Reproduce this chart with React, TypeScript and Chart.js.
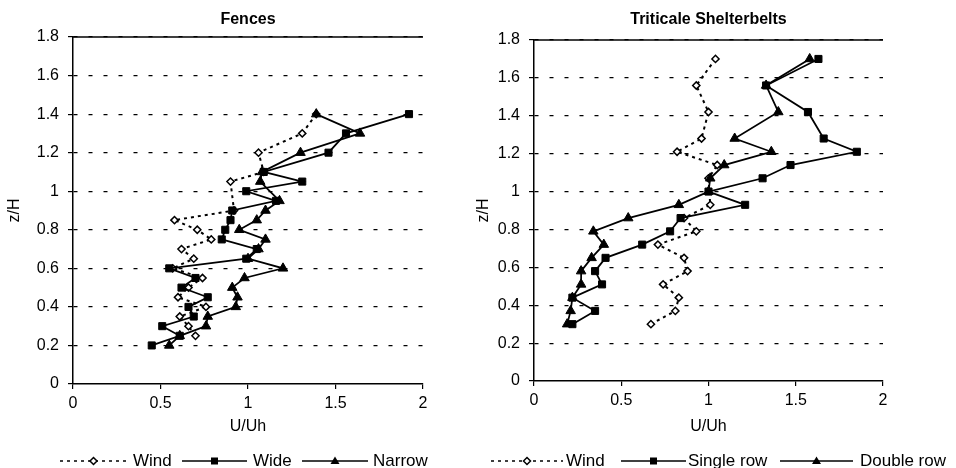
import React, { useEffect, useRef } from 'react';
import { Chart, registerables } from 'chart.js';

Chart.register(...registerables);

const FONT = '"Liberation Sans", Arial, Helvetica, sans-serif';

// ---- axes ----
const xTickValues = [0, 0.5, 1, 1.5, 2];
const xTickLabels = ['0', '0.5', '1', '1.5', '2'];
const yTickValues = [0, 0.2, 0.4, 0.6, 0.8, 1, 1.2, 1.4, 1.6, 1.8];
const yTickLabels = ['0', '0.2', '0.4', '0.6', '0.8', '1', '1.2', '1.4', '1.6', '1.8'];
const xAxisTitle = 'U/Uh';
const yAxisTitle = 'z/H';

// ---- Fences ----
const fenceTitle = 'Fences';
const fenceLabels = ['Wind', 'Wide', 'Narrow'];
const fenceWindZ = [1.4, 1.3, 1.2, 1.1, 1.05, 0.9, 0.85, 0.8, 0.75, 0.7, 0.65, 0.6, 0.55, 0.5, 0.45, 0.4, 0.35, 0.3, 0.25];
const fenceWindU = [1.39, 1.31, 1.06, 1.09, 0.9, 0.92, 0.58, 0.71, 0.79, 0.62, 0.69, 0.57, 0.74, 0.66, 0.6, 0.76, 0.61, 0.66, 0.7];
const fenceWideZ = [1.4, 1.3, 1.2, 1.1, 1.05, 1.0, 0.95, 0.9, 0.85, 0.8, 0.75, 0.7, 0.65, 0.6, 0.55, 0.5, 0.45, 0.4, 0.35, 0.3, 0.25, 0.2];
const fenceWideU = [1.92, 1.56, 1.46, 1.09, 1.31, 0.99, 1.16, 0.91, 0.9, 0.87, 0.85, 1.05, 0.99, 0.55, 0.7, 0.62, 0.77, 0.66, 0.69, 0.51, 0.61, 0.45];
const fenceNarrowZ = [1.4, 1.3, 1.2, 1.1, 1.05, 0.95, 0.9, 0.85, 0.8, 0.75, 0.7, 0.65, 0.6, 0.55, 0.5, 0.45, 0.4, 0.35, 0.3, 0.25, 0.2];
const fenceNarrowU = [1.39, 1.64, 1.3, 1.08, 1.07, 1.18, 1.1, 1.05, 0.95, 1.1, 1.06, 1.0, 1.2, 0.98, 0.91, 0.94, 0.93, 0.77, 0.76, 0.61, 0.55];

// ---- Triticale Shelterbelts ----
const triTitle = 'Triticale Shelterbelts';
const triLabels = ['Wind', 'Single row', 'Double row'];
const triWindZ = [1.7, 1.56, 1.42, 1.28, 1.21, 1.14, 1.07, 0.93, 0.86, 0.79, 0.72, 0.65, 0.58, 0.51, 0.44, 0.37, 0.3];
const triWindU = [1.04, 0.93, 1.0, 0.96, 0.82, 1.05, 1.0, 1.01, 0.86, 0.93, 0.71, 0.86, 0.88, 0.74, 0.83, 0.81, 0.67];
const triSingleZ = [1.7, 1.56, 1.42, 1.28, 1.21, 1.14, 1.07, 1.0, 0.93, 0.86, 0.79, 0.72, 0.65, 0.58, 0.51, 0.44, 0.37, 0.3];
const triSingleU = [1.63, 1.33, 1.57, 1.66, 1.85, 1.47, 1.31, 1.0, 1.21, 0.84, 0.78, 0.62, 0.41, 0.35, 0.39, 0.22, 0.35, 0.22];
const triDoubleZ = [1.7, 1.56, 1.42, 1.28, 1.21, 1.14, 1.07, 1.0, 0.93, 0.86, 0.79, 0.72, 0.65, 0.58, 0.51, 0.44, 0.37, 0.3];
const triDoubleU = [1.58, 1.33, 1.4, 1.15, 1.36, 1.09, 1.01, 1.0, 0.83, 0.54, 0.34, 0.4, 0.33, 0.27, 0.27, 0.22, 0.21, 0.19];

type Kind = 'wind' | 'square' | 'triangle';

const pts = (u: number[], z: number[]) => u.map((v, i) => ({ x: v, y: z[i] }));

function makeDataset(label: string, kind: Kind, u: number[], z: number[]) {
  const base: any = {
    label,
    data: pts(u, z),
    showLine: true,
    borderColor: '#000',
    pointBorderColor: '#000',
    pointHoverRadius: 0,
  };
  if (kind === 'wind') {
    return {
      ...base,
      borderWidth: 2,
      borderDash: [3, 4],
      pointStyle: 'rectRot',
      pointRadius: 3.6,
      pointBackgroundColor: '#fff',
      pointBorderWidth: 1.5,
    };
  }
  if (kind === 'square') {
    return {
      ...base,
      borderWidth: 1.75,
      pointStyle: 'rect',
      pointRadius: 5,
      pointBackgroundColor: '#000',
      pointBorderWidth: 1,
    };
  }
  return {
    ...base,
    borderWidth: 1.75,
    pointStyle: 'triangle',
    pointRadius: 5.5,
    pointBackgroundColor: '#000',
    pointBorderWidth: 1,
  };
}

function drawMarker(ctx: CanvasRenderingContext2D, kind: Kind, x: number, y: number) {
  ctx.save();
  ctx.setLineDash([]);
  ctx.beginPath();
  if (kind === 'square') {
    ctx.rect(x - 3.5, y - 3.5, 7, 7);
    ctx.fillStyle = '#000';
    ctx.fill();
  } else if (kind === 'triangle') {
    ctx.moveTo(x, y - 4.5);
    ctx.lineTo(x + 4.5, y + 3);
    ctx.lineTo(x - 4.5, y + 3);
    ctx.closePath();
    ctx.fillStyle = '#000';
    ctx.fill();
  } else {
    ctx.moveTo(x - 3.5, y);
    ctx.lineTo(x, y - 3.5);
    ctx.lineTo(x + 3.5, y);
    ctx.lineTo(x, y + 3.5);
    ctx.closePath();
    ctx.fillStyle = '#fff';
    ctx.fill();
    ctx.lineWidth = 1.5;
    ctx.strokeStyle = '#000';
    ctx.stroke();
  }
  ctx.restore();
}

type LegendItem = { label: string; kind: Kind; x1: number; x2: number; tx: number };

type PanelProps = {
  width: number;
  plotLeft: number;
  plotRight: number;
  plotTop: number;
  plotBottom: number;
  yTitlePad: number;
  title: string;
  datasets: any[];
  legend: LegendItem[];
};

const HEIGHT = 468;
const X_TITLE_BOTTOM = 436; // bottom edge of the x-axis title box
const LEGEND_Y = 461;
const TITLE_Y = 20;

function Panel(props: PanelProps) {
  const ref = useRef<HTMLCanvasElement | null>(null);
  useEffect(() => {
    if (!ref.current) return;
    const { width, plotLeft, plotRight, plotTop, plotBottom, yTitlePad, title, datasets, legend } = props;

    const decor = {
      id: 'decor',
      afterDraw(chart: any) {
        const ctx: CanvasRenderingContext2D = chart.ctx;
        const a = chart.chartArea;
        ctx.save();
        // solid top border
        ctx.beginPath();
        ctx.setLineDash([]);
        ctx.lineWidth = 1.5;
        ctx.strokeStyle = '#000';
        ctx.moveTo(a.left, a.top);
        ctx.lineTo(a.right, a.top);
        ctx.stroke();
        // title
        ctx.fillStyle = '#000';
        ctx.font = `bold 16px ${FONT}`;
        ctx.textAlign = 'center';
        ctx.textBaseline = 'middle';
        ctx.fillText(title, (a.left + a.right) / 2, TITLE_Y);
        // legend
        ctx.font = `17px ${FONT}`;
        ctx.textAlign = 'left';
        legend.forEach((it) => {
          ctx.beginPath();
          ctx.strokeStyle = '#000';
          if (it.kind === 'wind') {
            ctx.lineWidth = 1.5;
            ctx.setLineDash([3, 4]);
          } else {
            ctx.lineWidth = 1.5;
            ctx.setLineDash([]);
          }
          ctx.moveTo(it.x1, LEGEND_Y);
          ctx.lineTo(it.x2, LEGEND_Y);
          ctx.stroke();
          ctx.setLineDash([]);
          drawMarker(ctx, it.kind, (it.x1 + it.x2) / 2, LEGEND_Y);
          ctx.fillStyle = '#000';
          ctx.fillText(it.label, it.tx, LEGEND_Y);
        });
        ctx.restore();
      },
    };

    const chart = new Chart(ref.current, {
      type: 'scatter',
      data: { datasets },
      options: {
        responsive: false,
        animation: false,
        devicePixelRatio: 1,
        events: [],
        layout: {
          padding: { left: 0, right: width - plotRight, top: plotTop, bottom: HEIGHT - X_TITLE_BOTTOM },
        },
        plugins: {
          legend: { display: false },
          tooltip: { enabled: false },
          title: { display: false },
        },
        scales: {
          x: {
            type: 'linear',
            min: 0,
            max: 2,
            afterBuildTicks: (s: any) => {
              s.ticks = xTickValues.map((v) => ({ value: v }));
            },
            afterFit: (s: any) => {
              s.height = X_TITLE_BOTTOM - plotBottom;
            },
            ticks: {
              autoSkip: false,
              maxRotation: 0,
              color: '#000',
              padding: 5,
              font: { family: FONT, size: 16 },
              callback: (v: any) => {
                const i = xTickValues.indexOf(Number(v));
                return i >= 0 ? xTickLabels[i] : '';
              },
            },
            grid: {
              drawOnChartArea: false,
              drawTicks: true,
              tickLength: 5,
              color: '#000',
              tickColor: '#000',
              lineWidth: 1.2,
            },
            border: { display: true, color: '#000', width: 1.5 },
            title: {
              display: true,
              text: xAxisTitle,
              color: '#000',
              font: { family: FONT, size: 16 },
              padding: { top: 0, bottom: 0 },
            },
          },
          y: {
            type: 'linear',
            min: 0,
            max: 1.8,
            afterBuildTicks: (s: any) => {
              s.ticks = yTickValues.map((v) => ({ value: v }));
            },
            afterFit: (s: any) => {
              s.width = plotLeft;
            },
            ticks: {
              autoSkip: false,
              color: '#000',
              padding: 9,
              font: { family: FONT, size: 16 },
              callback: (v: any) => {
                const i = yTickValues.findIndex((t) => Math.abs(t - Number(v)) < 1e-9);
                return i >= 0 ? yTickLabels[i] : '';
              },
            },
            grid: {
              drawOnChartArea: true,
              drawTicks: true,
              tickLength: 5,
              color: (c: any) => (c.tick && c.tick.value === 0 ? 'rgba(0,0,0,0)' : '#000'),
              tickColor: '#000',
              lineWidth: 1.2,
            },
            border: { display: true, color: '#000', width: 1.5, dash: [4, 11] },
            title: {
              display: true,
              text: yAxisTitle,
              color: '#000',
              font: { family: FONT, size: 16 },
              padding: { top: yTitlePad, bottom: 0 },
            },
          },
        },
      } as any,
      plugins: [decor],
    });
    return () => chart.destroy();
  }, []);

  return (
    <canvas
      ref={ref}
      width={props.width}
      height={HEIGHT}
      style={{ display: 'block', width: props.width, height: HEIGHT }}
    />
  );
}

export default function App() {
  const fenceDatasets = [
    makeDataset(fenceLabels[1], 'square', fenceWideU, fenceWideZ),
    makeDataset(fenceLabels[2], 'triangle', fenceNarrowU, fenceNarrowZ),
    makeDataset(fenceLabels[0], 'wind', fenceWindU, fenceWindZ),
  ];
  const triDatasets = [
    makeDataset(triLabels[1], 'square', triSingleU, triSingleZ),
    makeDataset(triLabels[2], 'triangle', triDoubleU, triDoubleZ),
    makeDataset(triLabels[0], 'wind', triWindU, triWindZ),
  ];
  const fenceLegend: LegendItem[] = [
    { label: fenceLabels[0], kind: 'wind', x1: 60, x2: 127, tx: 133 },
    { label: fenceLabels[1], kind: 'square', x1: 182, x2: 247, tx: 253 },
    { label: fenceLabels[2], kind: 'triangle', x1: 302, x2: 368, tx: 373 },
  ];
  const triLegend: LegendItem[] = [
    { label: triLabels[0], kind: 'wind', x1: 21, x2: 93, tx: 96 },
    { label: triLabels[1], kind: 'square', x1: 151, x2: 216, tx: 218 },
    { label: triLabels[2], kind: 'triangle', x1: 310, x2: 383, tx: 390 },
  ];
  return (
    <div
      style={{
        position: 'absolute',
        left: 0,
        top: 0,
        width: 956,
        height: HEIGHT,
        display: 'flex',
        background: '#fff',
        overflow: 'hidden',
      }}
    >
      <Panel
        width={470}
        plotLeft={73}
        plotRight={423}
        plotTop={37}
        plotBottom={384}
        yTitlePad={5}
        title={fenceTitle}
        datasets={fenceDatasets}
        legend={fenceLegend}
      />
      <Panel
        width={486}
        plotLeft={64}
        plotRight={413}
        plotTop={40}
        plotBottom={381}
        yTitlePad={4}
        title={triTitle}
        datasets={triDatasets}
        legend={triLegend}
      />
    </div>
  );
}
